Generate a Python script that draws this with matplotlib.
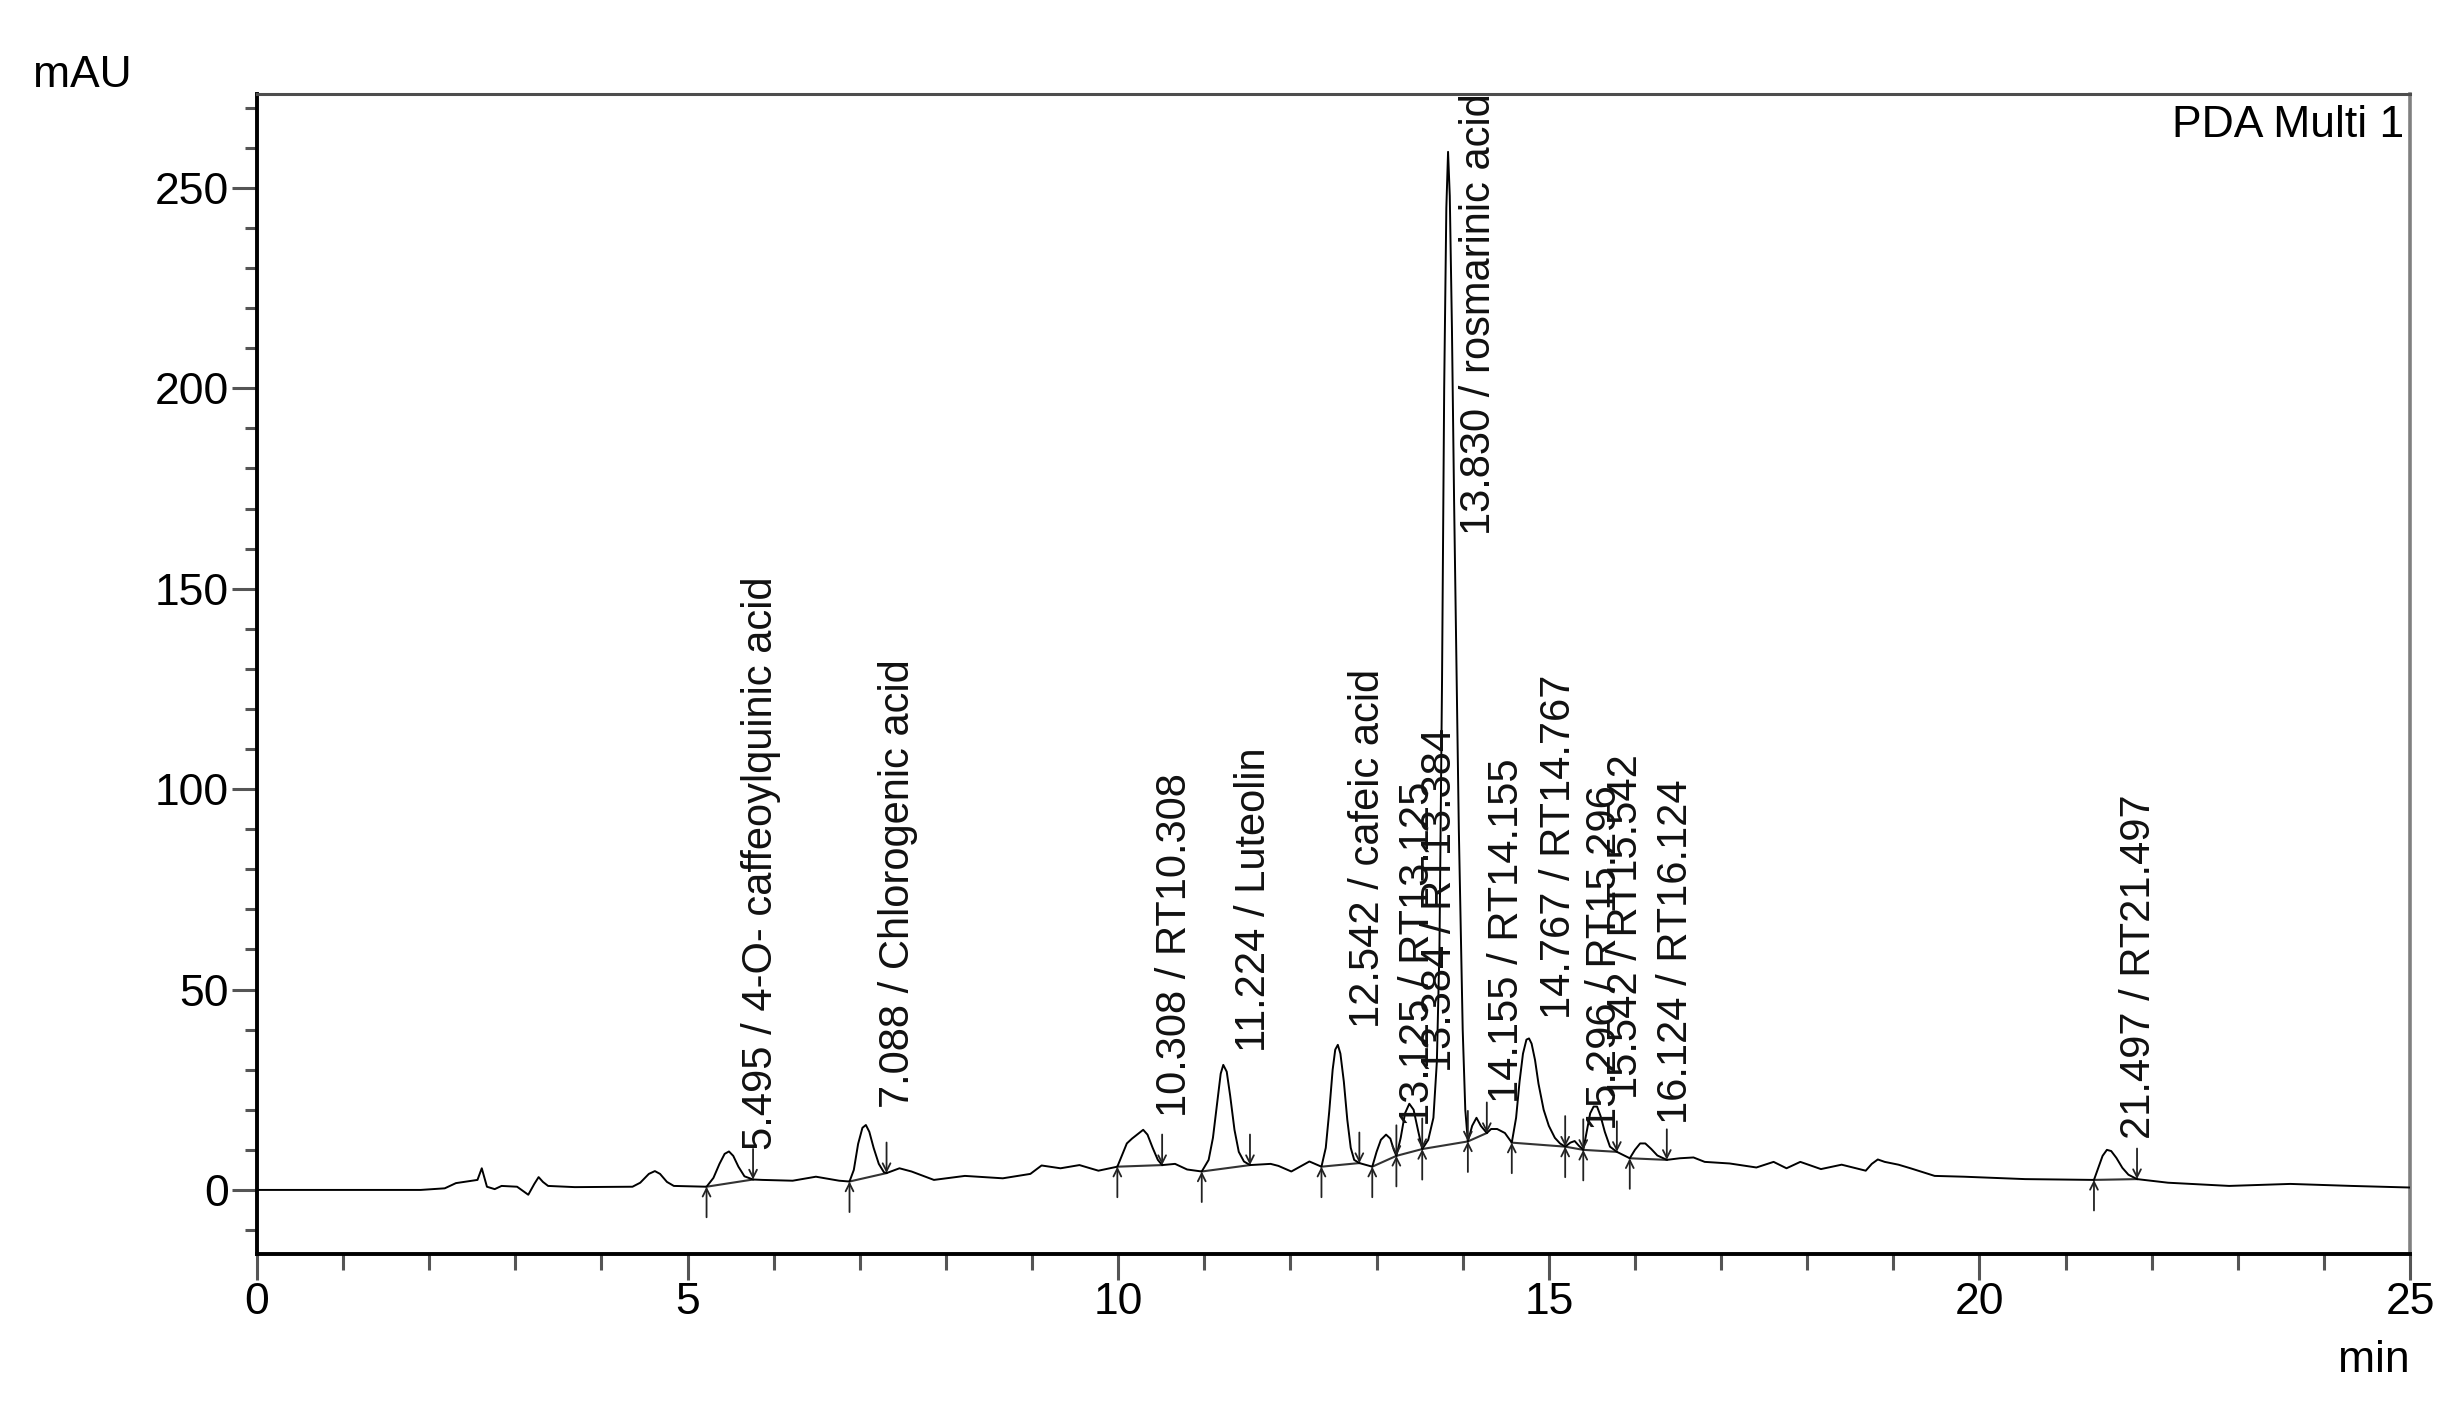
#!/usr/bin/env python3
"""
PDA chromatogram (Multi 1) with integrated peaks, start/end markers and
retention-time labels, redrawn from the instrument printout.
"""
import numpy as np
import matplotlib
matplotlib.use("Agg")
import matplotlib.pyplot as plt
from matplotlib.ticker import MultipleLocator

# chromatogram trace (min, mAU)
TIME = [0.00, 1.90, 2.18, 2.31, 2.56, 2.61, 2.67, 2.76, 2.84, 3.02,
        3.15, 3.22, 3.27, 3.32, 3.38, 3.69, 4.36, 4.45, 4.55, 4.62,
        4.68, 4.76, 4.84, 5.22, 5.30, 5.37, 5.43, 5.48, 5.53, 5.59,
        5.66, 5.76, 5.87, 6.22, 6.49, 6.76, 6.88, 6.93, 6.98, 7.03,
        7.07, 7.11, 7.16, 7.22, 7.28, 7.31, 7.46, 7.60, 7.86, 8.22,
        8.66, 8.98, 9.11, 9.33, 9.55, 9.77, 9.99, 10.05, 10.10, 10.16,
        10.22, 10.29, 10.34, 10.40, 10.46, 10.51, 10.66, 10.80, 10.97, 11.05,
        11.10, 11.15, 11.19, 11.22, 11.26, 11.30, 11.35, 11.40, 11.46, 11.53,
        11.77, 11.86, 12.01, 12.22, 12.36, 12.41, 12.45, 12.49, 12.52, 12.55,
        12.58, 12.62, 12.66, 12.70, 12.74, 12.80, 12.95, 13.00, 13.05, 13.11,
        13.16, 13.20, 13.23, 13.28, 13.33, 13.38, 13.43, 13.48, 13.53, 13.60,
        13.66, 13.70, 13.73, 13.76, 13.785, 13.81, 13.83, 13.85, 13.875, 13.90,
        13.93, 13.955, 13.98, 14.00, 14.03, 14.06, 14.11, 14.16, 14.21, 14.28,
        14.33, 14.40, 14.49, 14.57, 14.62, 14.66, 14.70, 14.74, 14.77, 14.80,
        14.84, 14.88, 14.94, 15.00, 15.07, 15.13, 15.19, 15.25, 15.30, 15.35,
        15.40, 15.44, 15.48, 15.52, 15.56, 15.60, 15.65, 15.71, 15.79, 15.94,
        16.00, 16.06, 16.12, 16.19, 16.26, 16.37, 16.52, 16.68, 16.81, 17.10,
        17.41, 17.61, 17.76, 17.92, 18.16, 18.40, 18.68, 18.75, 18.82, 18.90,
        19.06, 19.20, 19.48, 19.82, 20.53, 21.33, 21.38, 21.43, 21.48, 21.53,
        21.59, 21.66, 21.73, 21.83, 22.19, 22.90, 23.61, 24.32, 25.00]
SIGNAL = [0.0, 0.0, 0.4, 1.7, 2.5, 5.4, 0.8, 0.2, 1.0, 0.8,
          -1.2, 1.5, 3.2, 2.0, 1.0, 0.7, 0.8, 1.8, 4.0, 4.7,
          4.0, 2.0, 1.0, 0.8, 3.0, 6.5, 9.0, 9.6, 8.5, 5.8,
          3.4, 2.6, 2.5, 2.3, 3.3, 2.3, 2.1, 5.0, 11.5, 15.5,
          16.2, 14.5, 10.5, 6.5, 4.4, 4.2, 5.4, 4.6, 2.5, 3.5,
          2.9, 4.0, 6.1, 5.4, 6.2, 4.8, 5.8, 9.0, 11.6, 12.8,
          13.8, 15.0, 13.8, 10.5, 7.5, 6.2, 6.5, 5.1, 4.6, 7.5,
          13.0, 22.0, 29.0, 31.2, 29.5, 23.5, 15.0, 9.5, 7.1, 6.2,
          6.5, 6.0, 4.6, 7.1, 5.8, 10.5, 19.5, 30.0, 35.0, 36.2,
          34.0, 27.0, 17.5, 10.5, 7.5, 6.7, 5.8, 9.5, 12.5, 13.8,
          12.8, 10.0, 8.5, 13.0, 19.1, 21.5, 20.0, 15.0, 10.2, 12.5,
          18.0, 32.0, 60.0, 127.0, 200.0, 245.0, 259.0, 248.0, 215.0, 172.0,
          127.0, 90.0, 62.0, 40.0, 20.0, 12.1, 16.0, 18.0, 16.0, 14.2,
          15.2, 15.2, 14.2, 11.8, 18.0, 27.0, 34.0, 37.5, 37.8, 36.5,
          32.4, 26.5, 20.0, 16.0, 13.0, 11.6, 10.8, 11.8, 12.2, 11.0,
          10.0, 14.5, 19.1, 20.8, 20.8, 18.5, 14.5, 10.8, 9.5, 7.9,
          10.0, 11.6, 11.6, 10.2, 8.6, 7.5, 7.9, 8.1, 7.0, 6.6,
          5.6, 7.0, 5.4, 7.0, 5.2, 6.3, 4.8, 6.5, 7.6, 7.0,
          6.3, 5.4, 3.5, 3.3, 2.7, 2.5, 5.5, 8.5, 10.0, 9.7,
          8.0, 5.5, 3.8, 2.7, 1.8, 1.0, 1.5, 1.0, 0.6]

# integration marks (min): peak start and peak end
PEAK_START = [5.22, 6.88, 9.99, 10.97, 12.36, 12.95, 13.23, 13.53, 14.06,
              14.57, 15.19, 15.40, 15.94, 21.33]
PEAK_END = [5.76, 7.31, 10.51, 11.53, 12.80, 13.23, 13.53, 14.06, 14.28,
            15.19, 15.40, 15.79, 16.37, 21.83]

# identified peaks
PEAK_RT = [5.495, 7.088, 10.308, 11.224, 12.542, 13.125, 13.384, 13.830,
           14.155, 14.767, 15.296, 15.542, 16.124, 21.497]
PEAK_NAME = ["4-O- caffeoylquinic acid", "Chlorogenic acid", "RT10.308",
             "Luteolin", "cafeic acid", "RT13.125", "RT13.384",
             "rosmarinic acid", "RT14.155", "RT14.767", "RT15.296",
             "RT15.542", "RT16.124", "RT21.497"]

# where each label starts (mAU), as printed
LABEL_BOTTOM = [10.0, 20.5, 18.2, 34.4, 40.5, 16.0, 29.5, 163.3, 21.6,
                42.7, 15.0, 22.7, 16.5, 12.7]

FONT = ["Liberation Sans", "DejaVu Sans"]


def main():
    plt.rcParams["font.family"] = FONT
    fig = plt.figure(figsize=(24.64, 14.07), dpi=100)
    ax = fig.add_axes([0.1043, 0.1087, 0.8738, 0.8244])

    t = np.asarray(TIME)
    s = np.asarray(SIGNAL)
    ax.plot(t, s, color="black", lw=1.4, solid_joinstyle="round", zorder=3)

    # drop baselines under each peak
    for a, b in zip(PEAK_START, PEAK_END):
        ax.plot([a, b], [np.interp(a, t, s), np.interp(b, t, s)],
                color="#333333", lw=1.5, zorder=2)

    arrow = dict(arrowstyle="->", color="#222222", lw=1.3,
                 shrinkA=0, shrinkB=0, mutation_scale=14)
    for a in PEAK_START:
        ax.annotate("", xy=(a, np.interp(a, t, s)), xytext=(0, -22),
                    textcoords="offset points", arrowprops=arrow)
    for b in PEAK_END:
        ax.annotate("", xy=(b, np.interp(b, t, s)), xytext=(0, 22),
                    textcoords="offset points", arrowprops=arrow)

    for rt, name, yb in zip(PEAK_RT, PEAK_NAME, LABEL_BOTTOM):
        ax.annotate(f"{rt:.3f} / {name}", (rt, yb), xytext=(22, 0),
                    textcoords="offset points", rotation=90,
                    ha="center", va="bottom", fontsize=30, color="#111111")

    ax.set_xlim(0, 25)
    ax.set_ylim(-16, 273.4)
    ax.xaxis.set_major_locator(MultipleLocator(5))
    ax.xaxis.set_minor_locator(MultipleLocator(1))
    ax.yaxis.set_major_locator(MultipleLocator(50))
    ax.yaxis.set_minor_locator(MultipleLocator(10))
    ax.tick_params(axis="both", which="both", direction="out",
                   color="#555555", width=2.2, labelsize=32)
    ax.tick_params(axis="y", which="major", length=18, pad=2)
    ax.tick_params(axis="y", which="minor", length=8.6)
    ax.tick_params(axis="x", which="major", length=19, pad=1)
    ax.tick_params(axis="x", which="minor", length=11.5)

    for side in ("left", "bottom"):
        ax.spines[side].set_color("black")
        ax.spines[side].set_linewidth(2.8)
    ax.spines["top"].set_color("#4d4d4d")
    ax.spines["top"].set_linewidth(2.2)
    ax.spines["right"].set_color("#808080")
    ax.spines["right"].set_linewidth(2.6)

    ax.text(0.9972, 0.963, "PDA Multi 1", transform=ax.transAxes,
            ha="right", va="baseline", fontsize=32)
    fig.text(0.0134, 0.938, "mAU", ha="left", va="baseline", fontsize=32)
    fig.text(2410 / 2464, 0.0249, "min", ha="right", va="baseline",
             fontsize=32)

    fig.savefig("out.png", dpi=100)
    plt.close(fig)


if __name__ == "__main__":
    main()
